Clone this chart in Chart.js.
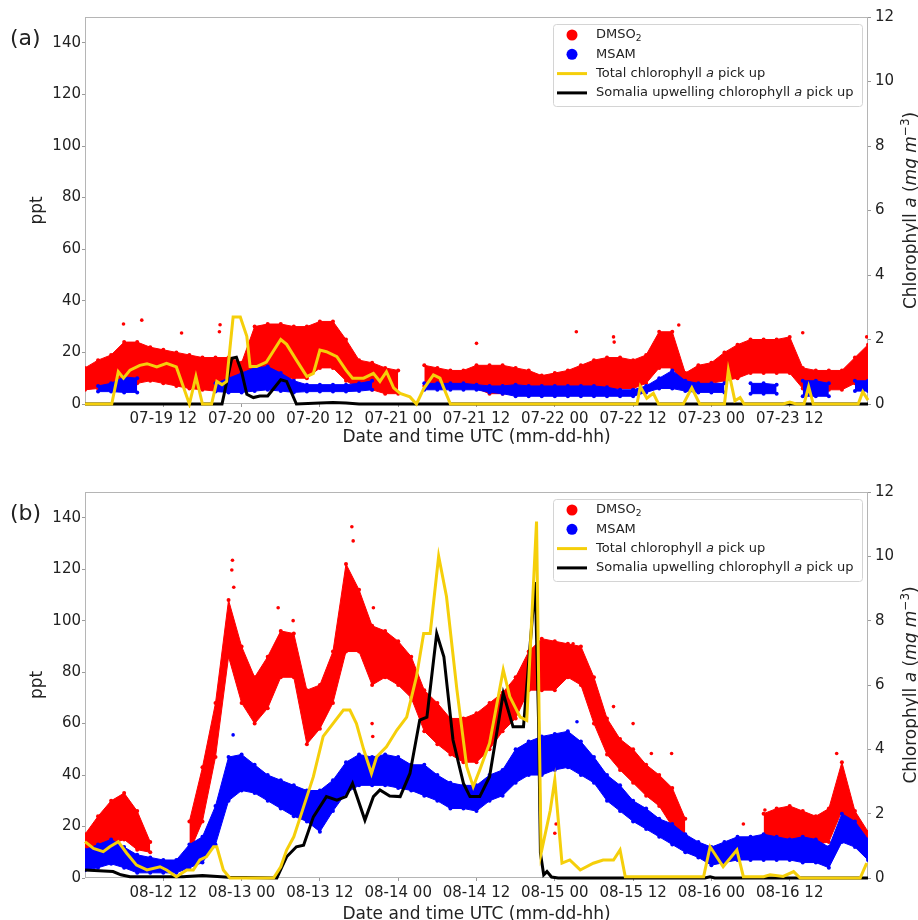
<!DOCTYPE html>
<html><head><meta charset="utf-8">
<script src="https://cdn.jsdelivr.net/npm/chart.js@4.4.0/dist/chart.umd.min.js"></script>
<style>
html,body{margin:0;padding:0;background:#fff;}
#wrap{position:relative;width:918px;height:920px;overflow:hidden;}
.pane{position:absolute;left:0;width:918px;height:460px;}
canvas{display:block;}
</style></head><body>
<div id="wrap">
<div class="pane" style="top:0"><canvas id="ca" width="918" height="460"></canvas></div>
<div class="pane" style="top:460px"><canvas id="cb" width="918" height="460"></canvas></div>
</div>
<script>
// ---------- shared axes data ----------
const tickHours = [12,24,36,48,60,72,84,96,108];
const tickLabelsA = ['07-19 12','07-20 00','07-20 12','07-21 00','07-21 12','07-22 00','07-22 12','07-23 00','07-23 12'];
const tickLabelsB = ['08-12 12','08-13 00','08-13 12','08-14 00','08-14 12','08-15 00','08-15 12','08-16 00','08-16 12'];
const yLeftTicks = [0,20,40,60,80,100,120,140];
const yRightTicks = [0,2,4,6,8,10,12];
// hours since start of panel (band sampling times)
const hoursBand = [0,2,4,6,8,10,12,14,16,18,20,22,24,26,28,30,32,34,36,38,40,42,44,46,48,50,52,54,56,58,60,62,64,66,68,70,72,74,76,78,80,82,84,86,88,90,92,94,96,98,100,102,104,106,108,110,112,114,116,118,120];

// ---------- panel (a) : July ----------
const dmsoLoA = [5.5,6,6,7,8,9,8,7,6,5.5,5,5,5.5,11,10,10,10,10,14,14,9,6,5.5,4,4,null,7,7,7,7,6,4,4,4,4,5,5,5.5,6,6,6,6,6,8,14,14,7,8,8,9,10,12,12,12,12,6,5.5,5.5,5.5,8,9];
const dmsoHiA = [14,17,19,24,24,22,21,20,19,18,18,18,16,30,31,31,30,30,32,32,25,17,16,14,13,null,15,14,13,13,15,15,15,14,13,11,12,13,15,17,18,18,17,19,28,28,12,15,16,20,23,25,25,25,26,14,13,13,13,18,23];
const msamLoA = [null,4.8,4.8,4.5,4.5,null,null,null,null,null,4.8,4.5,4.5,5,5.5,5,4.5,4.8,4.8,4.8,4.8,5,5.5,null,null,null,5.5,5.5,5.5,5.5,5.5,4.5,4,3,3,3,3,3,3,3,3,3,3,4.5,6,6,5,4.5,4.5,4.5,null,4,4,4,null,3,3,3,null,5,5];
const msamHiA = [null,7,8,10.5,10,null,null,null,null,null,8,10,12,14,14.5,12,9,7.5,7.5,7.5,7.5,8,9,null,null,null,8,8,8,8,7.5,7,7,7.5,7,7,7,7,7,7,6.5,5.5,5.5,7,10,13,9,8,8,8,null,8,8,7.5,null,9,9,8,null,9,9];
const dmsoOutHA = [5.9,8.7,14.8,20.7,20.6,60,75.3,81,81.1,91,110,119.8];
const dmsoOutA  = [31,32.5,27.5,30.7,28,23.5,28,26,24,30.6,27.6,26];
const msamOutHA = [];
const msamOutA  = [];
const chlTotHA = [0,4.1,5.1,5.9,6.9,8.4,9.5,11,12.5,14,16,17,18,19.4,20.2,21,21.7,22.7,23.8,24.8,25.3,26.3,27.8,30,30.9,32.4,34,35,36,37,38.6,40,41,42.7,44.2,45.2,46.2,47.3,48.3,49.8,50.8,51.9,53.4,54.4,54.9,56,84.6,85.1,86.1,87.1,87.9,91.7,93,94.2,98,98.6,99.6,100.4,101,107,108,109,110.2,110.9,111.6,118.5,119.2,120];
const chlTotA  = [0,0,1.0,0.8,1.05,1.2,1.25,1.15,1.26,1.15,0,0.85,0,0,0.7,0.6,0.7,2.7,2.7,2.1,1.16,1.16,1.3,2.0,1.85,1.36,0.85,0.95,1.67,1.62,1.47,1.05,0.8,0.8,0.95,0.7,1.0,0.5,0.33,0.22,0,0.47,0.9,0.8,0.54,0,0,0.54,0.18,0.33,0,0,0.5,0,0,1.05,0.1,0.2,0,0,0.06,0,0,0.54,0,0,0.38,0.12];
const chlSomHA = [0,21,22.5,23.2,24,24.8,25.8,26.8,28,30,30.9,32.4,36,38,40,42,120];
const chlSomA  = [0,0,1.42,1.45,1.0,0.3,0.2,0.25,0.25,0.75,0.7,0,0.03,0.05,0.03,0,0];

// ---------- panel (b) : August ----------
const dmsoLoB = [9,11,13,15,11,10,null,null,10,22,47,86,68,60,66,78,78,52,58,68,88,88,75,78,75,70,57,52,48,45,45,50,57,62,73,73,73,78,75,60,48,42,37,32,28,20,14,null,null,null,null,null,14,15,15,14,13,14,26,13,9];
const dmsoHiB = [17,24,30,33,26,14,null,null,22,43,68,108,90,78,86,96,95,73,75,88,122,112,98,96,92,86,73,68,62,62,64,68,72,78,88,93,92,91,90,78,62,54,50,44,40,35,23,null,null,null,null,null,25,27,28,26,24,27,45,26,18];
const msamLoB = [3,4,5.5,4,2,2,2,2,4,6,13,30,34,33,30,27,24,22,18,26,33,36,36,36,35,34,32,30,27,27,26,30,32,37,40,40,42,43,40,37,30,26,22,19,16,13,10,8,5,6,7,7,7,7,7,6,6,4,14,12,7];
const msamHiB = [11,13,15,12,9,8,7,7,13,16,28,47,48,44,40,38,36,34,34,38,45,48,47,48,47,44,44,40,37,36,36,40,42,50,53,55,56,57,53,47,40,36,30,27,23,21,17,14,12,14,16,16,17,16,15,16,15,12,25,22,15];
const dmsoOutHB = [22.5,22.6,22.8,29.6,31.9,40.9,41.1,44,44.1,44.2,69.7,72,72.2,72.3,74.8,81,84,86.8,89.9,100.9,104.2,115.2];
const dmsoOutB  = [119.7,123.5,113,105,100,136.5,131,60,55,105,91,17.4,21,91,91,66.6,60,48.4,48.4,21,26.4,48.4];
const msamOutHB = [22.7,75.4];
const msamOutB  = [55.6,60.7];
const chlTotHB = [0,1.3,2.8,3.8,5.1,6.4,7.9,9.5,11.5,12.5,14,15.6,16.6,17.6,18.6,19.7,20.2,21.2,22.2,28.9,30,30.9,32,33,35,36.5,38,39.6,40.6,41.6,42.7,43.9,44.7,46.2,47.8,49.3,50.8,51.9,52.9,54.2,55.4,57,58.5,59.5,60.5,62,64.1,65.1,66.7,67.7,69.2,69.6,69.9,71.3,72,73.1,74.3,75.9,77.9,79.4,81,82,82.8,86,94.8,95.8,97.8,99.9,100.9,104,105,107,108.6,109.6,118.8,119.8];
const chlTotB  = [1.13,0.92,0.82,0.97,1.13,0.77,0.4,0.25,0.35,0.25,0.04,0.25,0.25,0.56,0.66,0.97,0.97,0.25,0,0,0.35,0.87,1.28,1.9,3.15,4.4,4.8,5.22,5.22,4.8,4.0,3.25,3.77,4.08,4.6,5.0,6.26,7.6,7.6,10.0,8.75,5.85,3.46,2.84,3.36,4.19,6.47,5.64,5.0,4.9,11.08,5.0,0.77,2.1,3.05,0.46,0.56,0.25,0.46,0.56,0.56,0.87,0.04,0.04,0.04,0.97,0.35,0.87,0.04,0.04,0.1,0.05,0.2,0,0,0.46];
const chlSomHB = [0,4.3,5.5,6.9,15,18,22,29.4,30.2,30.9,32.4,33.5,35,37,38.6,40,41,42.9,44.2,45.2,46.7,48.3,49.8,51.3,52.4,53.9,55,56.4,58,59,60.5,62,64.1,65.6,67.2,69,69.5,69.8,70.3,70.8,71.5,72.5,95,95.8,96.5,120];
const chlSomB  = [0.25,0.2,0.1,0.04,0.04,0.08,0.02,0,0.35,0.66,0.97,1.02,1.9,2.53,2.42,2.53,2.94,1.8,2.53,2.74,2.55,2.53,3.25,4.91,5.0,7.6,6.88,4.29,2.94,2.53,2.53,3.15,5.74,4.7,4.7,9.2,5.0,0.77,0.1,0.2,0.03,0,0,0.04,0,0];

// ---------- styling ----------
const FONT = 'DejaVu Sans';
Chart.defaults.font.family = FONT;
const RED = '#ff0000', BLUE = '#0000ff', YEL = '#f5cf0a', BLK = '#000000', TXT = '#222222';

function xy(h, v){ return h.map((x,i)=>({x:x, y:v[i]})); }

function drawRich(ctx, x, y, segs, size){
  let cx = x;
  for (const [t, st] of segs){
    let f = size, dy = 0, style = '';
    if (st === 'i') style = 'italic ';
    if (st === 'sub'){ f = size*0.7; dy = size*0.28; }
    if (st === 'sup'){ f = size*0.7; dy = -size*0.4; }
    ctx.font = style + f + 'px "' + FONT + '"';
    ctx.fillText(t, cx, y + dy);
    cx += ctx.measureText(t).width;
  }
  return cx - x;
}
function richWidth(ctx, segs, size){
  let w = 0;
  for (const [t, st] of segs){
    let f = size, style = '';
    if (st === 'i') style = 'italic ';
    if (st === 'sub' || st === 'sup') f = size*0.7;
    ctx.font = style + f + 'px "' + FONT + '"';
    w += ctx.measureText(t).width;
  }
  return w;
}

const framePlugin = {
  id:'frame',
  beforeDatasetsDraw(chart){
    const {ctx, chartArea:a} = chart;
    ctx.save();
    ctx.strokeStyle = '#b5b5b5'; ctx.lineWidth = 1;
    ctx.strokeRect(a.left+0.5, a.top+0.5, a.right-a.left-1, a.bottom-a.top-1);
    ctx.restore();
  }
};

const textPlugin = {
  id:'texts',
  afterDraw(chart, args, opts){
    const {ctx, chartArea:a} = chart;
    ctx.save();
    ctx.fillStyle = TXT;
    ctx.textBaseline = 'alphabetic';
    ctx.textAlign = 'left';
    // panel label
    ctx.font = '22px "' + FONT + '"';
    ctx.fillText(opts.panel, 10, a.top + 28);
    // right axis title (rotated)
    const rt = [['Chlorophyll ','n'],['a','i'],[' (','n'],['mg m','i'],['\u22123','sup'],[')','n']];
    const w = richWidth(ctx, rt, 17);
    ctx.translate(a.right + 48, (a.top + a.bottom)/2);
    ctx.rotate(-Math.PI/2);
    drawRich(ctx, -w/2, 0, rt, 17);
    ctx.restore();

    // legend
    ctx.save();
    const bx = a.right - 315, by = a.top + 7, bw = 309, bh = 82;
    ctx.fillStyle = 'rgba(255,255,255,0.85)';
    ctx.strokeStyle = '#d4d4d4'; ctx.lineWidth = 1;
    ctx.beginPath();
    if (ctx.roundRect) ctx.roundRect(bx+0.5, by+0.5, bw, bh, 3); else ctx.rect(bx+0.5, by+0.5, bw, bh);
    ctx.fill(); ctx.stroke();
    const rows = [
      {kind:'dot', color:RED, segs:[['DMSO','n'],['2','sub']]},
      {kind:'dot', color:BLUE, segs:[['MSAM','n']]},
      {kind:'line', color:YEL, segs:[['Total chlorophyll ','n'],['a','i'],[' pick up','n']]},
      {kind:'line', color:BLK, segs:[['Somalia upwelling chlorophyll ','n'],['a','i'],[' pick up','n']]}
    ];
    rows.forEach((r, i)=>{
      const cy = a.top + 18 + i*19.3;
      if (r.kind === 'dot'){
        ctx.fillStyle = r.color;
        ctx.beginPath(); ctx.arc(bx + 19, cy, 5.5, 0, Math.PI*2); ctx.fill();
      } else {
        ctx.strokeStyle = r.color; ctx.lineWidth = 3;
        ctx.beginPath(); ctx.moveTo(bx + 4, cy); ctx.lineTo(bx + 34, cy); ctx.stroke();
      }
      ctx.fillStyle = TXT;
      ctx.textBaseline = 'middle';
      drawRich(ctx, bx + 43, cy, r.segs, 13);
    });
    ctx.restore();
  }
};

function bandSet(hi, lo, color, order){
  const common = {type:'line', yAxisID:'yL', borderColor:color, borderWidth:1, pointRadius:2,
    pointBackgroundColor:color, pointBorderWidth:0, tension:0, spanGaps:false, order:order};
  return [
    Object.assign({label:'hi', data: xy(hoursBand, hi), fill:false}, common),
    Object.assign({label:'lo', data: xy(hoursBand, lo), fill:'-1', backgroundColor:color}, common)
  ];
}

function makePanel(id, P){
  const datasets = [
    {type:'line', label:'Total chlorophyll a pick up', data: xy(P.chlTotH, P.chlTot), yAxisID:'yR',
     borderColor:YEL, borderWidth:3, pointRadius:0, fill:false, tension:0, order:0, clip:4},
    {type:'line', label:'Somalia upwelling chlorophyll a pick up', data: xy(P.chlSomH, P.chlSom), yAxisID:'yR',
     borderColor:BLK, borderWidth:3, pointRadius:0, fill:false, tension:0, order:0, clip:4},
    {type:'scatter', label:'MSAM', data: xy(P.msamOutH, P.msamOut), yAxisID:'yL',
     backgroundColor:BLUE, borderWidth:0, pointRadius:1.8, order:1},
    ...bandSet(P.msamHi, P.msamLo, BLUE, 1),
    {type:'scatter', label:'DMSO2', data: xy(P.dmsoOutH, P.dmsoOut), yAxisID:'yL',
     backgroundColor:RED, borderWidth:0, pointRadius:1.8, order:2},
    ...bandSet(P.dmsoHi, P.dmsoLo, RED, 2)
  ];
  const tickGrid = {drawOnChartArea:false, drawTicks:true, tickLength:3, color:'#9a9a9a'};
  return new Chart(document.getElementById(id), {
    data:{datasets:datasets},
    options:{
      responsive:false, animation:false, events:[],
      layout:{padding:{top:P.top, left:0, right:0, bottom:0}},
      plugins:{legend:{display:false}, tooltip:{enabled:false}, texts:{panel:P.panel}},
      scales:{
        x:{type:'linear', min:0, max:120,
          afterBuildTicks:s=>{ s.ticks = tickHours.map(v=>({value:v})); },
          ticks:{callback:(v)=>P.tickLabels[tickHours.indexOf(v)], font:{size:15}, color:TXT, maxRotation:0, autoSkip:false, padding:3},
          grid:tickGrid, border:{display:false},
          title:{display:true, text:'Date and time UTC (mm-dd-hh)', font:{size:17}, color:TXT, padding:{top:0, bottom:P.xTitlePad}},
          afterFit:s=>{ s.height = P.xH; }
        },
        yL:{type:'linear', position:'left', min:0, max:150,
          afterBuildTicks:s=>{ s.ticks = yLeftTicks.map(v=>({value:v})); },
          ticks:{font:{size:15}, color:TXT, padding:1},
          grid:tickGrid, border:{display:false},
          title:{display:true, text:'ppt', font:{size:17}, color:TXT, padding:{top:27, bottom:0}},
          afterFit:s=>{ s.width = 85; }
        },
        yR:{type:'linear', position:'right', min:0, max:12,
          afterBuildTicks:s=>{ s.ticks = yRightTicks.map(v=>({value:v})); },
          ticks:{font:{size:15}, color:TXT, padding:4},
          grid:tickGrid, border:{display:false},
          afterFit:s=>{ s.width = 50; }
        }
      }
    },
    plugins:[framePlugin, textPlugin]
  });
}

makePanel('ca', {panel:'(a)', top:17, xH:56, xTitlePad:12, tickLabels:tickLabelsA,
  dmsoLo:dmsoLoA, dmsoHi:dmsoHiA, msamLo:msamLoA, msamHi:msamHiA,
  dmsoOutH:dmsoOutHA, dmsoOut:dmsoOutA, msamOutH:msamOutHA, msamOut:msamOutA,
  chlTotH:chlTotHA, chlTot:chlTotA, chlSomH:chlSomHA, chlSom:chlSomA});
makePanel('cb', {panel:'(b)', top:32, xH:42, xTitlePad:-5, tickLabels:tickLabelsB,
  dmsoLo:dmsoLoB, dmsoHi:dmsoHiB, msamLo:msamLoB, msamHi:msamHiB,
  dmsoOutH:dmsoOutHB, dmsoOut:dmsoOutB, msamOutH:msamOutHB, msamOut:msamOutB,
  chlTotH:chlTotHB, chlTot:chlTotB, chlSomH:chlSomHB, chlSom:chlSomB});
</script>
</body></html>
